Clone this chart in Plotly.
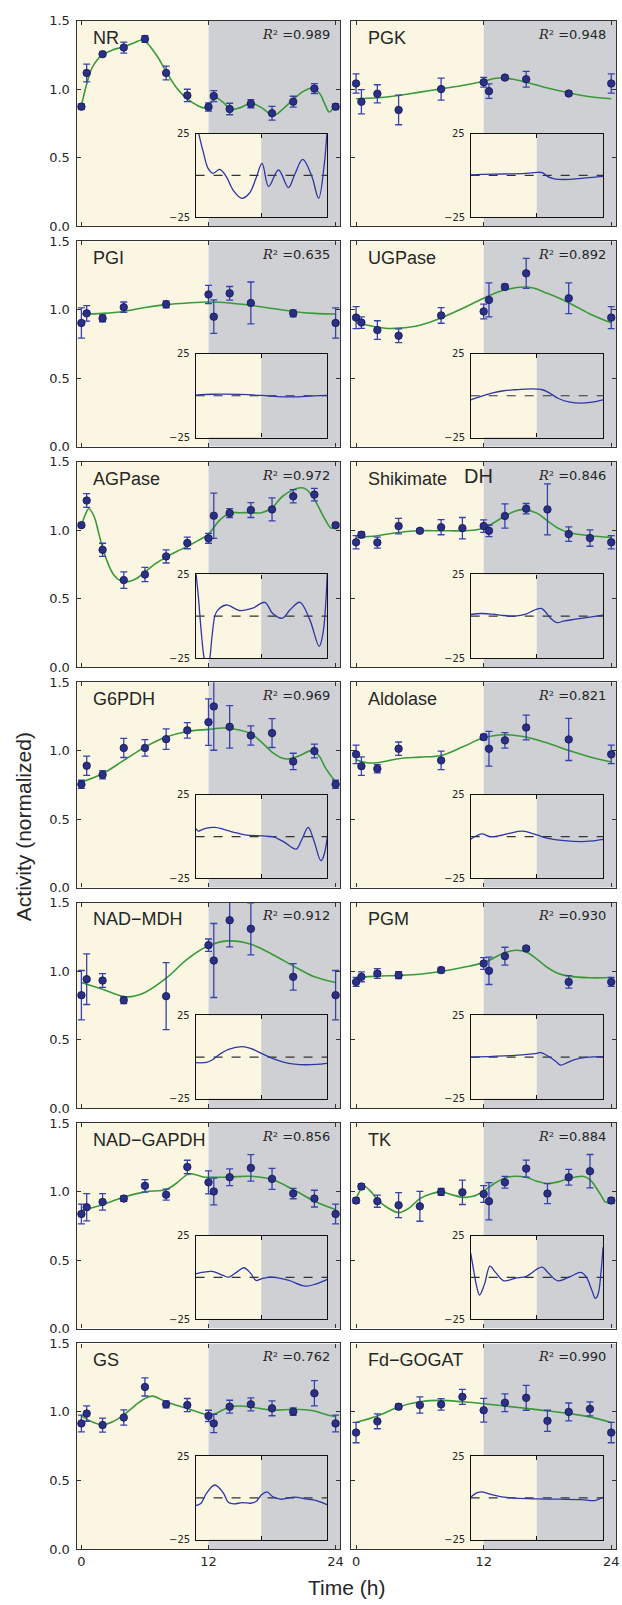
import plotly.graph_objects as go

# ---------------- data ----------------
T = [0, 0.5, 2, 4, 6, 8, 10, 12, 12.5, 14, 16, 18, 20, 22, 24]
NAMES = ["NR", "PGK", "PGI", "UGPase", "AGPase", "Shikimate", "G6PDH", "Aldolase",
         "NAD\u2212MDH", "PGM", "NAD\u2212GAPDH", "TK", "GS", "Fd\u2212GOGAT"]
R2 = [0.989, 0.948, 0.635, 0.892, 0.972, 0.846, 0.969, 0.821, 0.912, 0.930, 0.856, 0.884, 0.762, 0.990]
INSET_TICKS = [-25, 25]
INSET_LABELS = ["\u221225", "25"]
N = None

NR_y = [0.874, 1.12, 1.257, 1.305, 1.368, 1.12, 0.956, 0.872, 0.951, 0.857, 0.896, 0.826, 0.91, 1.006, 0.874]
NR_e = [0.02, 0.065, 0.015, 0.04, 0.025, 0.05, 0.045, 0.03, 0.04, 0.042, 0.03, 0.05, 0.04, 0.036, 0.02]
NR_ft = [0, 0.5, 1, 1.5, 2, 3, 4, 5, 5.8, 7, 8, 9, 10, 11, 11.6, 12, 12.7, 13.3, 14.2, 15, 16, 17, 18.1, 19, 20, 21, 21.8, 22.5, 23, 23.4, 24]
NR_fv = [0.88, 1.04, 1.156, 1.216, 1.252, 1.29, 1.31, 1.34, 1.36, 1.26, 1.13, 1.01, 0.93, 0.88, 0.865, 0.88, 0.94, 0.91, 0.855, 0.867, 0.898, 0.867, 0.81, 0.855, 0.927, 0.987, 1.01, 0.97, 0.89, 0.835, 0.89]
NR_rt = [0, 0.6, 1.4, 2.3, 3.2, 4.4, 5.6, 6.8, 8.4, 9.8, 11, 12.1, 13.3, 15.1, 16.9, 18.1, 19.5, 21.1, 22.4, 23.4, 24]
NR_rv = [40, 25, 14, 4, 1.2, 3.6, -0.8, -8.7, -13.7, -10.7, -1.8, 7.1, -6.7, 3.2, -7.3, 1, 9.5, 0, -13.7, 6, 30]

PGK_y = [1.043, 0.91, 0.968, 0.85, N, 1.002, N, 1.052, 0.987, 1.086, 1.074, N, 0.97, N, 1.043]
PGK_e = [0.07, 0.088, 0.066, 0.108, N, 0.08, N, 0.036, 0.053, 0.015, 0.057, N, 0.015, N, 0.07]
PGK_ft = [0, 2, 4, 6, 8, 10, 12, 13, 13.8, 15, 16, 18, 20, 22, 24]
PGK_fv = [0.932, 0.939, 0.956, 0.98, 1.004, 1.028, 1.06, 1.079, 1.085, 1.07, 1.052, 1.01, 0.975, 0.946, 0.932]
PGK_rt = [0, 2, 6, 10, 12, 13, 14, 15, 16, 18, 20, 22, 24]
PGK_rv = [0.2, 0.6, 0.8, 1.2, 1.8, 1.6, -0.8, -2, -2.4, -2.4, -1.8, -1.2, -0.6]

PGI_y = [0.904, 0.974, 0.938, 1.019, N, 1.04, N, 1.112, 0.95, 1.12, 1.05, N, 0.974, N, 0.904]
PGI_e = [0.11, 0.056, 0.025, 0.038, N, 0.025, N, 0.067, 0.122, 0.05, 0.153, N, 0.025, N, 0.11]
PGI_ft = [0, 2, 4, 6, 8, 10, 12, 14, 16, 18, 20, 22, 24]
PGI_fv = [0.969, 0.974, 0.988, 1.017, 1.038, 1.05, 1.057, 1.05, 1.033, 1.01, 0.988, 0.974, 0.969]
PGI_rt = [0, 3, 5, 8, 12, 15, 17, 20, 24]
PGI_rv = [0.4, 0.9, 1.0, 0.8, 0.2, -0.5, -0.7, -0.4, 0.2]

UGP_y = [0.943, 0.907, 0.852, 0.811, N, 0.959, N, 0.988, 1.072, 1.167, 1.266, N, 1.084, N, 0.943]
UGP_e = [0.08, 0.042, 0.068, 0.05, N, 0.057, N, 0.054, 0.124, 0.02, 0.11, N, 0.112, N, 0.08]
UGP_ft = [0, 2, 3, 4, 6, 8, 10, 12, 14, 16.3, 18, 20, 22, 24]
UGP_fv = [0.905, 0.873, 0.864, 0.866, 0.888, 0.94, 1.01, 1.084, 1.146, 1.165, 1.12, 1.052, 0.97, 0.905]
UGP_rt = [0, 2, 4, 6, 8, 10, 12, 13, 14, 16, 18, 20, 22, 24]
UGP_rv = [-2.4, -0.2, 1.8, 3, 3.6, 4, 4, 3.6, 2.2, -1.8, -3.8, -4.4, -3.8, -2.4]

AGP_y = [1.037, 1.217, 0.857, 0.636, 0.677, 0.809, 0.907, 0.941, 1.106, 1.125, 1.147, 1.152, 1.248, 1.26, 1.037]
AGP_e = [0.015, 0.05, 0.048, 0.06, 0.052, 0.048, 0.042, 0.036, 0.165, 0.032, 0.054, 0.084, 0.048, 0.046, 0.015]
AGP_ft = [0, 0.35, 0.7, 1.2, 1.6, 2, 2.5, 3, 3.5, 4.2, 5.2, 6, 7, 8, 9, 10, 11, 12, 13, 14, 15, 16, 17, 18, 19, 20.5, 21.2, 22, 23, 23.6, 24]
AGP_fv = [1.03, 1.11, 1.157, 1.1, 0.99, 0.87, 0.76, 0.68, 0.64, 0.624, 0.648, 0.696, 0.756, 0.804, 0.845, 0.881, 0.924, 0.972, 1.068, 1.125, 1.128, 1.128, 1.128, 1.164, 1.248, 1.308, 1.3, 1.224, 1.08, 1.015, 1.032]
AGP_rt = [0, 0.5, 1, 1.5, 2, 2.5, 3, 3.5, 4, 5.6, 8, 10.4, 12.6, 14, 15.8, 17.2, 19, 20.8, 22.5, 23.2, 24]
AGP_rv = [28, 12, -8, -24, -32, -27, -12, 0, 3.5, 6.7, 3.4, 4.8, 8.3, 1.8, -1.2, 3.8, 8.3, -2.2, -18, -10, 28]

SDH_y = [0.912, 0.967, 0.91, 1.03, 0.996, 1.022, 1.015, 1.03, 0.996, 1.104, 1.157, 1.152, 0.972, 0.943, 0.912]
SDH_e = [0.048, 0.02, 0.04, 0.056, 0.015, 0.055, 0.078, 0.046, 0.042, 0.088, 0.038, 0.186, 0.053, 0.06, 0.048]
SDH_ft = [0, 2, 4, 6, 8, 10, 11, 12, 13, 14, 15, 15.7, 17, 18, 19, 20, 22, 24]
SDH_fv = [0.948, 0.96, 0.984, 0.996, 0.996, 0.996, 1.0, 1.015, 1.056, 1.104, 1.14, 1.15, 1.125, 1.068, 1.015, 0.984, 0.96, 0.948]
SDH_rt = [0, 2, 4, 6, 8, 10, 11, 12, 12.8, 13.5, 14.5, 15.6, 17, 19, 21, 24]
SDH_rv = [1, 1.6, 1.2, 0.4, 0, 1.2, 2.8, 4.2, 4.6, 2.8, -1.2, -3.8, -2.8, -1.8, -0.8, 0.6]

G6P_y = [0.754, 0.89, 0.824, 1.02, 1.02, 1.084, 1.148, 1.208, 1.323, 1.174, 1.111, 1.128, 0.921, 0.997, 0.754]
G6P_e = [0.03, 0.07, 0.03, 0.07, 0.06, 0.075, 0.057, 0.17, 0.32, 0.155, 0.07, 0.105, 0.06, 0.05, 0.03]
G6P_ft = [0, 2, 4, 6, 8, 10, 12, 13.5, 16, 17, 18, 19, 19.6, 20.5, 21.8, 22.5, 23, 24]
G6P_fv = [0.771, 0.832, 0.929, 1.026, 1.099, 1.14, 1.155, 1.165, 1.123, 1.062, 0.99, 0.945, 0.94, 0.96, 1.0, 0.955, 0.88, 0.771]
G6P_rt = [0, 0.5, 1, 2, 3.5, 5, 7, 9, 12, 14, 16, 18.3, 19.3, 20.5, 21.5, 22.8, 23.3, 24]
G6P_rv = [4.9, 3.3, 3.9, 5.1, 5.5, 4.5, 2.6, 1, 0.4, 0, -3, -7.5, -2, 5.5, -2, -14.4, -11.8, 0]

ALD_y = [0.973, 0.887, 0.868, 1.014, N, 0.929, N, 1.099, 1.014, 1.075, 1.169, N, 1.082, N, 0.973]
ALD_e = [0.067, 0.067, 0.03, 0.049, N, 0.067, N, 0.02, 0.127, 0.057, 0.09, N, 0.154, N, 0.067]
ALD_ft = [0, 1, 2, 4, 6, 8, 10, 12, 14, 15, 16, 18, 20, 22, 24]
ALD_fv = [0.934, 0.912, 0.912, 0.941, 0.953, 0.965, 1.026, 1.094, 1.116, 1.111, 1.099, 1.055, 1.002, 0.953, 0.917]
ALD_rt = [0, 2, 3.5, 5, 7, 9.5, 12, 14, 17, 20, 22, 24]
ALD_rv = [-1.6, 1.6, 0, 0.4, 2, 3.3, 1, -1, -2.4, -3, -2.6, -1.6]

MDH_y = [0.824, 0.941, 0.931, 0.788, N, 0.817, N, 1.189, 1.077, 1.371, 1.308, N, 0.958, N, 0.824]
MDH_e = [0.18, 0.185, 0.05, 0.025, N, 0.245, N, 0.045, 0.27, 0.194, 0.19, N, 0.097, N, 0.18]
MDH_ft = [0, 2, 4.3, 6, 8, 10, 12, 13.8, 16, 18, 20, 22, 24]
MDH_fv = [0.917, 0.868, 0.812, 0.844, 0.948, 1.087, 1.184, 1.22, 1.196, 1.123, 1.038, 0.958, 0.917]
MDH_rt = [0, 2, 3, 4, 6, 8.5, 10, 12, 14, 16, 18, 20, 22, 24]
MDH_rv = [-3.4, -3.2, -1.8, 0.8, 4.6, 6.2, 5.2, 2.2, -0.8, -3, -4.2, -4.6, -4.4, -3.8]

PGM_y = [0.921, 0.958, 0.982, 0.97, N, 1.007, N, 1.055, 1.002, 1.109, 1.165, N, 0.921, N, 0.921]
PGM_e = [0.033, 0.036, 0.036, 0.025, N, 0.02, N, 0.043, 0.1, 0.065, 0.015, N, 0.046, N, 0.033]
PGM_ft = [0, 2, 4, 6, 8, 10, 12, 14, 15, 16, 17, 18, 19, 20, 22, 24]
PGM_fv = [0.953, 0.963, 0.968, 0.977, 0.997, 1.026, 1.062, 1.135, 1.152, 1.14, 1.087, 1.026, 0.982, 0.963, 0.951, 0.953]
PGM_rt = [0, 4, 8, 12, 12.7, 14, 15.5, 16.3, 17.5, 19, 21, 24]
PGM_rv = [0, 0.4, 1, 2.2, 2.6, 0.6, -2.8, -4.8, -3.4, -1.4, -0.2, 0.2]

GAP_y = [0.836, 0.885, 0.924, 0.948, 1.041, 0.977, 1.179, 1.067, 1.0, 1.104, 1.172, 1.092, 0.985, 0.948, 0.836]
GAP_e = [0.072, 0.1, 0.06, 0.02, 0.046, 0.04, 0.049, 0.084, 0.097, 0.061, 0.097, 0.077, 0.038, 0.061, 0.072]
GAP_ft = [0, 2, 4, 6, 8, 9, 10, 10.5, 11.5, 12, 14, 16, 18, 20, 22, 24]
GAP_fv = [0.861, 0.904, 0.958, 0.997, 1.014, 1.062, 1.123, 1.128, 1.106, 1.104, 1.106, 1.111, 1.087, 1.014, 0.929, 0.868]
GAP_rt = [0, 1.5, 3, 5, 6, 7.5, 8.8, 10, 11, 12, 13.5, 15, 17, 20, 22, 24]
GAP_rv = [2.2, 3.2, 3.6, 1.2, 0.2, 3.2, 5.8, 2.6, -1.8, -0.8, 0.2, -0.2, -1.8, -5.2, -3.8, -1.2]

TK_y = [0.934, 1.036, 0.929, 0.9, 0.892, 0.997, 0.994, 0.982, 0.929, 1.067, 1.167, 0.985, 1.104, 1.148, 0.934]
TK_e = [0.02, 0.02, 0.044, 0.091, 0.109, 0.025, 0.089, 0.061, 0.136, 0.043, 0.062, 0.073, 0.057, 0.122, 0.02]
TK_ft = [0, 0.7, 1.5, 2, 3, 4, 5, 6, 7, 8, 9, 10, 11, 12, 13, 14, 15, 16, 17, 18, 19, 20, 21.3, 22, 23, 23.5, 24]
TK_fv = [0.941, 1.038, 0.99, 0.941, 0.88, 0.846, 0.88, 0.948, 0.982, 0.997, 0.977, 0.958, 0.965, 1.002, 1.058, 1.099, 1.111, 1.104, 1.075, 1.058, 1.07, 1.094, 1.111, 1.087, 0.977, 0.921, 0.934]
TK_rt = [0, 0.5, 1, 1.6, 2.5, 3.5, 4.5, 6, 8, 10, 11, 12, 13, 14, 15.8, 18, 20, 21, 22, 22.6, 23.1, 23.6, 24]
TK_rv = [14.6, 5, -4, -10.5, -4, 6.7, 3, -2, -0.5, 0.5, 2.5, 5, 6.2, 3, -2, 0.5, 3, 0, -8, -12.5, -10, 2, 18]

GS_y = [0.916, 0.988, 0.904, 0.959, 1.182, 1.055, 1.05, 0.971, 0.916, 1.038, 1.055, 1.026, 1.002, 1.136, 0.916]
GS_e = [0.061, 0.056, 0.051, 0.056, 0.066, 0.025, 0.048, 0.041, 0.067, 0.047, 0.048, 0.054, 0.028, 0.092, 0.061]
GS_ft = [0, 1, 2, 3, 4, 5, 6, 6.7, 8, 10, 12, 12.5, 14, 15, 16, 18, 20, 22, 23, 24]
GS_fv = [0.971, 0.928, 0.907, 0.93, 0.978, 1.043, 1.098, 1.115, 1.074, 1.024, 0.978, 0.983, 1.036, 1.043, 1.036, 1.012, 1.019, 1.007, 0.983, 0.964]
GS_rt = [0, 1, 2, 3.5, 5, 6, 7, 8.5, 10, 11, 12, 13, 14, 15.5, 18, 20, 22, 24]
GS_rv = [-4.6, -3.2, 2.8, 7.7, 3.2, -2.8, -3.6, -2.8, -3.2, -2.2, 1.8, 3.6, 0.8, -0.8, 0.4, -0.6, -1.6, -4.2]

GOG_y = [0.849, N, 0.931, 1.038, 1.05, 1.055, 1.11, 1.012, N, 1.067, 1.103, 0.935, 1.0, 1.022, 0.849]
GOG_e = [0.074, N, 0.054, 0.02, 0.059, 0.042, 0.055, 0.087, N, 0.065, 0.091, 0.077, 0.065, 0.051, 0.074]
GOG_ft = [0, 2, 4, 6, 8, 10, 12, 14, 16, 18, 20, 22, 24]
GOG_fv = [0.923, 0.97, 1.036, 1.074, 1.084, 1.074, 1.06, 1.043, 1.026, 1.007, 0.988, 0.964, 0.923]
GOG_rt = [0, 1, 2, 4, 6, 8, 12, 16, 20, 22.5, 24]
GOG_rv = [0.4, 2.8, 3.6, 1.8, 0.4, -0.2, -0.6, -0.8, -1, -1.6, 0.4]

PANELS = [
    (NR_y, NR_e, NR_ft, NR_fv, NR_rt, NR_rv),
    (PGK_y, PGK_e, PGK_ft, PGK_fv, PGK_rt, PGK_rv),
    (PGI_y, PGI_e, PGI_ft, PGI_fv, PGI_rt, PGI_rv),
    (UGP_y, UGP_e, UGP_ft, UGP_fv, UGP_rt, UGP_rv),
    (AGP_y, AGP_e, AGP_ft, AGP_fv, AGP_rt, AGP_rv),
    (SDH_y, SDH_e, SDH_ft, SDH_fv, SDH_rt, SDH_rv),
    (G6P_y, G6P_e, G6P_ft, G6P_fv, G6P_rt, G6P_rv),
    (ALD_y, ALD_e, ALD_ft, ALD_fv, ALD_rt, ALD_rv),
    (MDH_y, MDH_e, MDH_ft, MDH_fv, MDH_rt, MDH_rv),
    (PGM_y, PGM_e, PGM_ft, PGM_fv, PGM_rt, PGM_rv),
    (GAP_y, GAP_e, GAP_ft, GAP_fv, GAP_rt, GAP_rv),
    (TK_y, TK_e, TK_ft, TK_fv, TK_rt, TK_rv),
    (GS_y, GS_e, GS_ft, GS_fv, GS_rt, GS_rv),
    (GOG_y, GOG_e, GOG_ft, GOG_fv, GOG_rt, GOG_rv),
]

# ---------------- styling ----------------
W, H = 622, 1605
YELLOW = "#fbf6e2"
GREY = "#cfd0d4"
GREEN = "#3a9a3a"
NAVY = "#2a2f88"
ERR = "#3742ad"
RATE = "#2e36a3"
AXC = "#333333"
TXT = "#262626"
TICKFONT = dict(family="DejaVu Sans", size=13, color=TXT)

COLS = [(77, 342), (353, 619)]
TOP0, PITCH, PH = 14, 222.5, 207.5
IX = (0.451, 0.951)
IY = (0.045, 0.452)

fig = go.Figure()
layout = dict(width=W, height=H, margin=dict(l=0, r=0, t=0, b=0),
              paper_bgcolor="white", plot_bgcolor="rgba(0,0,0,0)",
              showlegend=False, shapes=[], annotations=[])

for k, (py, pe, ft, fv, rt, rv) in enumerate(PANELS):
    r, c = divmod(k, 2)
    x0, x1 = COLS[c]
    top = TOP0 + PITCH * r
    bot = top + PH
    m = k + 1
    n = k + 15
    mx, my = ("x" if m == 1 else f"x{m}"), ("y" if m == 1 else f"y{m}")
    nx, ny = f"x{n}", f"y{n}"
    mxa = "xaxis" if m == 1 else f"xaxis{m}"
    mya = "yaxis" if m == 1 else f"yaxis{m}"

    layout[mxa] = dict(domain=[x0 / W, x1 / W], anchor=my, range=[-0.45, 24.45],
                       tickvals=[0, 12, 24], ticks="inside", ticklen=4, tickcolor=AXC,
                       showline=True, mirror="ticks", linecolor=AXC, linewidth=1.4,
                       showgrid=False, zeroline=False, showticklabels=(r == 6),
                       tickfont=TICKFONT)
    layout[mya] = dict(domain=[1 - bot / H, 1 - top / H], anchor=mx, range=[0, 1.5],
                       tickvals=[0, 0.5, 1.0, 1.5], tickformat=".1f", ticks="inside",
                       ticklen=4, tickcolor=AXC, showline=True, mirror="ticks",
                       linecolor=AXC, linewidth=1.4, showgrid=False, zeroline=False,
                       showticklabels=(c == 0), tickfont=TICKFONT, ticklabelstandoff=3)

    ix0 = x0 + IX[0] * (x1 - x0)
    ix1 = x0 + IX[1] * (x1 - x0)
    iyb = bot - IY[0] * PH
    iyt = bot - IY[1] * PH
    layout[f"xaxis{n}"] = dict(domain=[ix0 / W, ix1 / W], anchor=ny, range=[0, 24],
                               tickvals=[12], ticks="inside", ticklen=4, tickcolor="#111",
                               showline=True, mirror="ticks", linecolor="#111", linewidth=1.4,
                               showgrid=False, zeroline=False, showticklabels=False)
    layout[f"yaxis{n}"] = dict(domain=[1 - iyb / H, 1 - iyt / H], anchor=nx, range=[-25, 25],
                               ticks="", showticklabels=False,
                               showline=True, mirror=True, linecolor="#111", linewidth=1.4,
                               showgrid=False, zeroline=False)
    for tv, tl in zip(INSET_TICKS, INSET_LABELS):
        layout["annotations"].append(dict(text=tl, xref="paper", yref=ny, x=(ix0 - 4) / W, y=tv,
                                          xanchor="right", yanchor="middle", showarrow=False,
                                          font=dict(family="DejaVu Sans", size=10, color=TXT)))

    layout["shapes"] += [
        dict(type="rect", xref=mx, yref=my, x0=-0.45, x1=12, y0=0, y1=1.5,
             fillcolor=YELLOW, line=dict(width=0), layer="below"),
        dict(type="rect", xref=mx, yref=my, x0=12, x1=24.45, y0=0, y1=1.5,
             fillcolor=GREY, line=dict(width=0), layer="below"),
        dict(type="rect", xref=nx, yref=ny, x0=0, x1=12, y0=-25, y1=25,
             fillcolor=YELLOW, line=dict(width=0), layer="below"),
        dict(type="rect", xref=nx, yref=ny, x0=12, x1=24, y0=-25, y1=25,
             fillcolor=GREY, line=dict(width=0), layer="below"),
    ]

    fig.add_trace(go.Scatter(x=ft, y=fv, mode="lines", xaxis=mx, yaxis=my,
                             line=dict(color=GREEN, width=1.6, shape="spline"),
                             hoverinfo="skip"))
    fig.add_trace(go.Scatter(x=T, y=py, mode="markers", xaxis=mx, yaxis=my,
                             marker=dict(size=7.5, color=NAVY, line=dict(color="#15184a", width=0.8)),
                             error_y=dict(type="data", array=pe, color=ERR, thickness=1.3, width=3.5)))
    fig.add_trace(go.Scatter(x=[0, 24], y=[0, 0], mode="lines", xaxis=nx, yaxis=ny,
                             line=dict(color="#333333", width=1.2, dash="dash"), hoverinfo="skip"))
    fig.add_trace(go.Scatter(x=rt, y=rv, mode="lines", xaxis=nx, yaxis=ny,
                             line=dict(color=RATE, width=1.3, shape="spline"), hoverinfo="skip"))

    name_font = dict(family="Liberation Sans", size=18, color=TXT)
    if k == 5:
        layout["annotations"].append(dict(text="Shikimate", xref=f"{mx} domain", yref=f"{my} domain",
                                          x=0.056, y=1 - 17 / PH, xanchor="left", yanchor="middle",
                                          showarrow=False, font=name_font))
        layout["annotations"].append(dict(text="DH", xref=f"{mx} domain", yref=f"{my} domain",
                                          x=0.417, y=1 - 14 / PH, xanchor="left", yanchor="middle",
                                          showarrow=False, font=dict(family="Liberation Sans", size=20, color=TXT)))
    else:
        layout["annotations"].append(dict(text=NAMES[k], xref=f"{mx} domain", yref=f"{my} domain",
                                          x=0.054, y=1 - 17 / PH, xanchor="left", yanchor="middle",
                                          showarrow=False, font=name_font))
    layout["annotations"].append(dict(
        text='<span style="font-family:DejaVu Serif"><i>R</i>\u00b2</span> =' + f"{R2[k]:.3f}",
        xref=f"{mx} domain", yref=f"{my} domain", x=0.97, y=1 - 13.5 / PH,
        xanchor="right", yanchor="middle", showarrow=False,
        font=dict(family="DejaVu Sans", size=13, color=TXT)))

layout["annotations"].append(dict(text="Activity (normalized)", xref="paper", yref="paper",
                                  x=23 / W, y=1 - 827 / H, textangle=-90, showarrow=False,
                                  xanchor="center", yanchor="middle",
                                  font=dict(family="Liberation Sans", size=21, color=TXT)))
layout["annotations"].append(dict(text="Time (h)", xref="paper", yref="paper",
                                  x=348 / W, y=1 - 1595 / H, showarrow=False,
                                  xanchor="center", yanchor="middle",
                                  font=dict(family="Liberation Sans", size=21, color=TXT)))

fig.update_layout(**layout)
fig.write_html("out.html")
